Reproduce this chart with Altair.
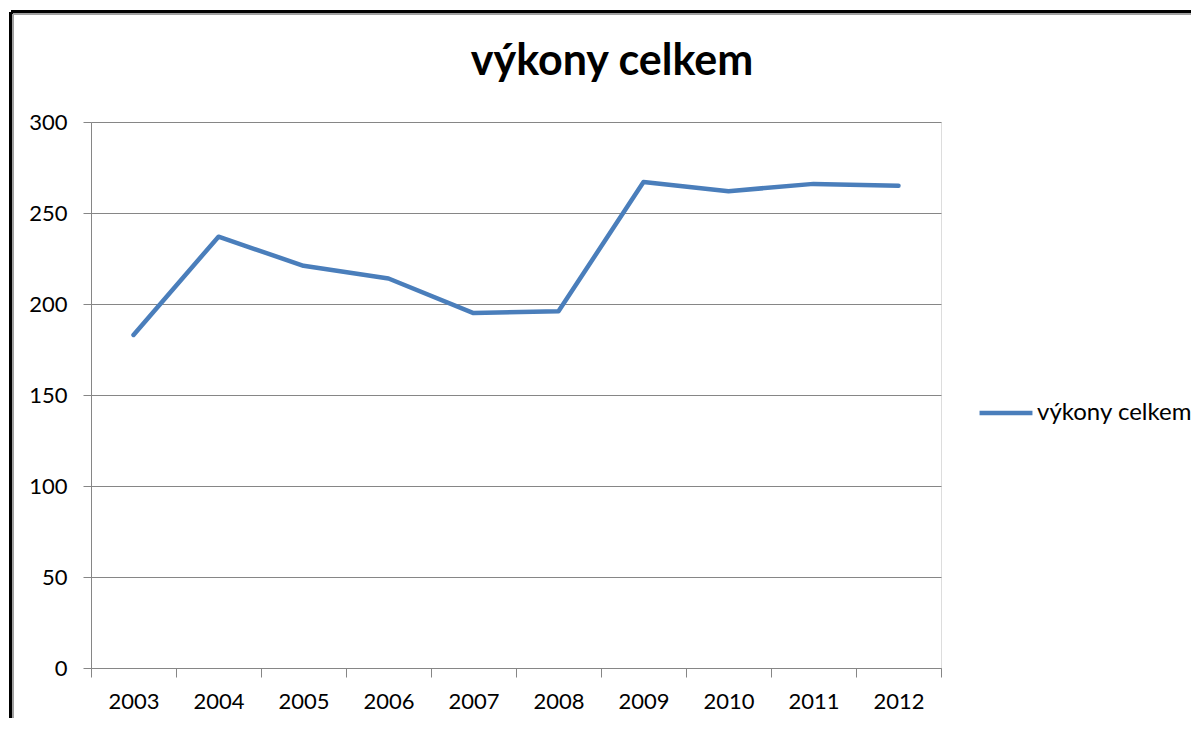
import altair as alt
import pandas as pd

years = ["2003", "2004", "2005", "2006", "2007", "2008", "2009", "2010", "2011", "2012"]
values = [183, 237, 221, 214, 195, 196, 267, 262, 266, 265]
series_name = "výkony celkem"
y_ticks = [0, 50, 100, 150, 200, 250, 300]

df = pd.DataFrame({"rok": years, "hodnota": values, "serie": [series_name] * len(years)})

FONT = "Lato"

line = alt.Chart(df).mark_line(strokeWidth=4.5, strokeCap="round", strokeJoin="round").encode(
    x=alt.X("rok:O", bandPosition=0.5,
            scale=alt.Scale(type="band", paddingInner=0, paddingOuter=0),
            axis=alt.Axis(title=None, labelAngle=0, tickBand="extent", grid=False,
                          domainColor="#868686", tickColor="#868686", tickSize=9,
                          labelFont=FONT, labelFontSize=22, labelColor="#000000",
                          labelPadding=14)),
    y=alt.Y("hodnota:Q", scale=alt.Scale(domain=[0, 300], nice=False),
            axis=alt.Axis(title=None, values=y_ticks, grid=True, gridColor="#868686",
                          gridWidth=1, domainColor="#868686", tickColor="#868686",
                          tickSize=8, labelFont=FONT, labelFontSize=22,
                          labelColor="#000000", labelPadding=16)),
    color=alt.Color("serie:N", scale=alt.Scale(range=["#4a7ebb"]),
                    legend=alt.Legend(title=None, orient="none", legendX=886, legendY=262,
                                      symbolType="stroke", symbolSize=2800,
                                      symbolStrokeWidth=4.5, labelFont=FONT,
                                      labelFontSize=24, labelColor="#000000",
                                      labelOffset=2)),
)

frame_left = alt.Chart(df).mark_rule(color="#000000", strokeWidth=3).encode(
    x=alt.value(-80), y=alt.value(-110), y2=alt.value(650))
frame_top = alt.Chart(df).mark_rule(color="#000000", strokeWidth=3).encode(
    x=alt.value(-80), x2=alt.value(1200), y=alt.value(-110))
frame_left_in = alt.Chart(df).mark_rule(color="#a0a0a0", strokeWidth=1.5).encode(
    x=alt.value(-78), y=alt.value(-108), y2=alt.value(650))
frame_top_in = alt.Chart(df).mark_rule(color="#a0a0a0", strokeWidth=1.5).encode(
    x=alt.value(-78), x2=alt.value(1200), y=alt.value(-108))

chart = alt.layer(frame_left, frame_top, frame_left_in, frame_top_in, line).properties(
    width=850, height=546,
    title=alt.TitleParams(series_name, font=FONT, fontSize=43, fontWeight="bold",
                          color="#000000", anchor="middle", dx=96, offset=-107,
                          baseline="alphabetic"),
    autosize=alt.AutoSizeParams(type="none"),
    padding={"left": 83, "top": 114, "right": 250, "bottom": 50},
).configure_view(stroke=None).configure(background="white")

chart.save("out.html", embed_options={"renderer": "svg", "actions": False})
